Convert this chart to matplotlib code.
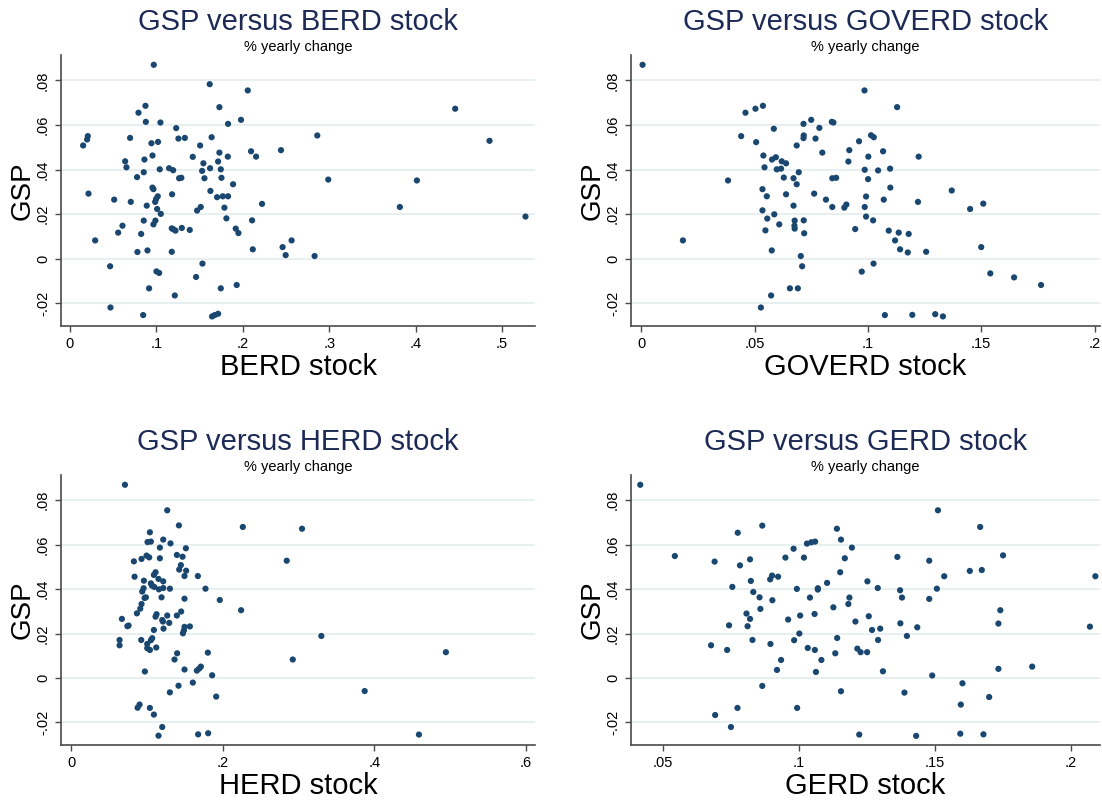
import matplotlib
matplotlib.use("Agg")
import matplotlib.pyplot as plt

plt.rcParams['font.family'] = ['Liberation Sans', 'DejaVu Sans']

# --- BERD stock vs GSP (% yearly change) ---
berd_x = [0.0971, 0.1618, 0.2058, 0.173, 0.0875, 0.0794, 0.0879, 0.1048, 0.123, 0.183,
          0.198, 0.0208, 0.020, 0.0154, 0.0697, 0.0944, 0.102, 0.1256, 0.133, 0.164,
          0.1507, 0.2096, 0.2154, 0.173, 0.1827, 0.1422, 0.0956, 0.064, 0.0655, 0.0863,
          0.1545, 0.1148, 0.1195, 0.104, 0.0855, 0.153, 0.1622, 0.1715, 0.1746, 0.0778,
          0.1264, 0.129, 0.1557, 0.1754, 0.1888, 0.0956, 0.0967, 0.0216, 0.1626, 0.1017,
          0.0998, 0.1183, 0.1703, 0.1769, 0.183, 0.0513, 0.0705, 0.0987, 0.089, 0.101,
          0.1052, 0.1788, 0.1472, 0.1514, 0.2223, 0.1811, 0.2108, 0.099, 0.0855, 0.0967,
          0.0609, 0.0559, 0.0825, 0.1179, 0.1198, 0.1222, 0.1295, 0.1387, 0.1919, 0.195,
          0.0293, 0.2116, 0.0782, 0.0898, 0.1179, 0.0466, 0.1534, 0.1002, 0.1033, 0.146,
          0.0917, 0.1746, 0.193, 0.1214, 0.047, 0.0848, 0.1645, 0.1676, 0.1715,
          0.2442, 0.2862, 0.2989, 0.4457, 0.4854, 0.4014, 0.3817, 0.527, 0.2565, 0.2461,
          0.2496, 0.2831]
berd_gsp = [0.0870, 0.0783, 0.0755, 0.068, 0.0686, 0.0655, 0.0614, 0.0611, 0.0586, 0.0605,
            0.0623, 0.0550, 0.0535, 0.0508, 0.0542, 0.0518, 0.0524, 0.0539, 0.0542, 0.0545,
            0.0508, 0.0482, 0.0458, 0.0476, 0.0458, 0.0457, 0.0463, 0.0437, 0.0410, 0.0445,
            0.0428, 0.0406, 0.0397, 0.0401, 0.0388, 0.0394, 0.0406, 0.0436, 0.0401, 0.0366,
            0.0361, 0.0363, 0.0361, 0.0363, 0.0334, 0.0319, 0.0312, 0.0292, 0.0304, 0.0280,
            0.0268, 0.0289, 0.0276, 0.0280, 0.0280, 0.0265, 0.0255, 0.0255, 0.0238, 0.0223,
            0.0201, 0.0229, 0.0216, 0.0232, 0.0246, 0.0181, 0.0172, 0.0171, 0.0171, 0.0154,
            0.0148, 0.0117, 0.0111, 0.0136, 0.0132, 0.0126, 0.0138, 0.0129, 0.0135, 0.0115,
            0.0082, 0.0042, 0.0030, 0.0037, 0.0031, -0.0034, -0.0022, -0.0057, -0.0064, -0.0082,
            -0.0133, -0.0133, -0.0118, -0.0165, -0.0219, -0.0253, -0.0259, -0.0253, -0.0247,
            0.0487, 0.0553, 0.0355, 0.0673, 0.0529, 0.0351, 0.0232, 0.0189, 0.0082, 0.0052,
            0.0016, 0.0012]

# --- GOVERD stock vs GSP ---
goverd_x = [0.0006, 0.0184, 0.0383, 0.0441, 0.046, 0.0504, 0.0537, 0.0507, 0.0585, 0.0539,
            0.0544, 0.0577, 0.0594, 0.062, 0.0639, 0.0598, 0.0617, 0.0629, 0.0672, 0.0695,
            0.0686, 0.0535, 0.0554, 0.0639, 0.0535, 0.0587, 0.0556, 0.0672, 0.0677, 0.0717,
            0.0676, 0.0677, 0.0719, 0.0548, 0.0609, 0.0576, 0.0704, 0.071, 0.0656, 0.0691,
            0.0573, 0.0528, 0.0686, 0.0716, 0.0717, 0.0716, 0.0750, 0.0786, 0.0769, 0.0799,
            0.0841, 0.0848, 0.0843, 0.086, 0.0763, 0.0815, 0.0843, 0.0896, 0.0905, 0.0918,
            0.0914,
            0.0985, 0.1129, 0.1014, 0.1026, 0.0961, 0.1067, 0.1002, 0.1224, 0.0986, 0.1045,
            0.1098, 0.1001, 0.1099, 0.137, 0.0992, 0.107, 0.1221, 0.1509, 0.1451, 0.0986,
            0.0992, 0.1023, 0.0944, 0.1092, 0.1136, 0.118, 0.112, 0.1142, 0.1176, 0.1257,
            0.15, 0.1025, 0.0973, 0.154, 0.1645, 0.1764, 0.1075, 0.1196, 0.1297, 0.1331]
goverd_gsp = [0.0870, 0.0082, 0.0351, 0.0550, 0.0655, 0.0673, 0.0686, 0.0523, 0.0583, 0.0463,
              0.0410, 0.0445, 0.0455, 0.0437, 0.0428, 0.0401, 0.0404, 0.0364, 0.0361, 0.0388,
              0.0334, 0.0312, 0.0280, 0.0289, 0.0217, 0.0199, 0.0180, 0.0238, 0.0171, 0.0172,
              0.0148, 0.0135, 0.0114, 0.0127, 0.0154, 0.0037, 0.0012, -0.0034, -0.0133, -0.0133,
              -0.0165, -0.0219, 0.0508, 0.0541, 0.0553, 0.0605, 0.0623, 0.0587, 0.0539, 0.0476,
              0.0614, 0.0611, 0.0361, 0.0363, 0.0292, 0.0265, 0.0232, 0.0229, 0.0243, 0.0487,
              0.0436,
              0.0755, 0.0680, 0.0554, 0.0545, 0.0527, 0.0482, 0.0458, 0.0458, 0.0399, 0.0396,
              0.0404, 0.0357, 0.0319, 0.0306, 0.0279, 0.0265, 0.0255, 0.0247, 0.0223, 0.0232,
              0.0189, 0.0172, 0.0133, 0.0126, 0.0117, 0.0111, 0.0082, 0.0042, 0.0028, 0.0031,
              0.0052, -0.0022, -0.0058, -0.0066, -0.0084, -0.0118, -0.0253, -0.0252, -0.0249, -0.0259]

# --- HERD stock vs GSP ---
herd_x = [0.0708, 0.1266, 0.142, 0.2264, 0.1037, 0.1006, 0.105, 0.1213, 0.1309, 0.1169,
          0.1512, 0.0826, 0.0927, 0.0993, 0.1028, 0.1169, 0.1393, 0.1468, 0.1446, 0.1424,
          0.1516, 0.1494, 0.167, 0.0835, 0.1112, 0.109, 0.0958, 0.1151, 0.1213, 0.105,
          0.1064, 0.1094, 0.1156, 0.1213, 0.1301, 0.0954, 0.0936, 0.0984, 0.0967, 0.1191,
          0.1494, 0.1771, 0.196, 0.0927, 0.091, 0.0866, 0.145, 0.1125, 0.1112, 0.1266,
          0.1393, 0.12, 0.1209, 0.1292, 0.2241, 0.0668, 0.0756, 0.0740, 0.109, 0.1217,
          0.1494, 0.1486, 0.1565, 0.1473, 0.0637, 0.0637, 0.0923, 0.1068, 0.105, 0.1002,
          0.1002, 0.1037, 0.1121, 0.1397, 0.1802, 0.1362, 0.0971, 0.1494, 0.1657, 0.1687,
          0.171, 0.1859, 0.1604, 0.1415, 0.1301, 0.1912, 0.0875, 0.0901, 0.1037, 0.109,
          0.12, 0.1151, 0.1674, 0.1806,
          0.3045, 0.2843, 0.33, 0.2923, 0.4944, 0.3872, 0.4588]
herd_gsp = [0.0870, 0.0755, 0.0687, 0.0680, 0.0656, 0.0612, 0.0614, 0.0623, 0.0606, 0.0587,
            0.0584, 0.0525, 0.0536, 0.0551, 0.0543, 0.0539, 0.0554, 0.0546, 0.0508, 0.0488,
            0.0483, 0.0459, 0.0459, 0.0456, 0.0476, 0.0464, 0.0438, 0.0446, 0.0435, 0.0426,
            0.0416, 0.0410, 0.0399, 0.0405, 0.0402, 0.0404, 0.0389, 0.0363, 0.0360, 0.0363,
            0.0357, 0.0402, 0.0351, 0.0333, 0.0312, 0.0291, 0.0299, 0.0287, 0.0276, 0.0281,
            0.0281, 0.0261, 0.0254, 0.0248, 0.0305, 0.0266, 0.0236, 0.0233, 0.0216, 0.0222,
            0.0230, 0.0214, 0.0232, 0.0201, 0.0171, 0.0147, 0.0171, 0.0179, 0.0170, 0.0153,
            0.0134, 0.0126, 0.0137, 0.0111, 0.0114, 0.0083, 0.0029, 0.0038, 0.0033, 0.0042,
            0.0051, 0.0012, -0.0021, -0.0035, -0.0065, -0.0084, -0.0134, -0.0120, -0.0135, -0.0165,
            -0.0221, -0.0260, -0.0254, -0.0249,
            0.0672, 0.0528, 0.0189, 0.0083, 0.0116, -0.0059, -0.0255]

# --- GERD stock vs GSP ---
gerd_x = [0.0418, 0.0545, 0.0691, 0.0776, 0.0866, 0.0784, 0.0821, 0.0756, 0.0824, 0.0833,
          0.0856, 0.0895, 0.0902, 0.0924, 0.0903, 0.0859, 0.0808, 0.0821, 0.0812, 0.0744,
          0.0678, 0.0737, 0.083, 0.0896, 0.0935, 0.092, 0.0961, 0.0951, 0.0981, 0.0993,
          0.0983, 0.1002, 0.1005, 0.1019, 0.103, 0.1046, 0.106, 0.1041, 0.1058, 0.107,
          0.107, 0.1104, 0.1033, 0.1059, 0.1063, 0.1083, 0.114, 0.1155, 0.1152, 0.1127,
          0.1141, 0.1134, 0.1155, 0.1169, 0.1186, 0.1182, 0.0866, 0.0775, 0.0994, 0.0693,
          0.0751,
          0.1195, 0.1252, 0.129, 0.1208, 0.1257, 0.1269, 0.1299, 0.1291, 0.1215, 0.1227,
          0.1251, 0.1309, 0.1388, 0.1362, 0.1372, 0.1379, 0.1373, 0.1397, 0.1435, 0.1479,
          0.1479, 0.1507, 0.1511, 0.1534, 0.149, 0.1628, 0.1672, 0.1666, 0.175, 0.174,
          0.1733, 0.1733, 0.1857, 0.1601, 0.1699, 0.1595, 0.1222, 0.1431, 0.1593, 0.1678,
          0.2089, 0.2069]
gerd_gsp = [0.0870, 0.0549, 0.0524, 0.0654, 0.0686, 0.0507, 0.0534, 0.0410, 0.0437, 0.0387,
            0.0363, 0.0444, 0.0461, 0.0456, 0.0350, 0.0311, 0.0290, 0.0266, 0.0233, 0.0237,
            0.0147, 0.0126, 0.0171, 0.0153, 0.0081, 0.0036, 0.0263, 0.0542, 0.0582, 0.0401,
            0.0170, 0.0200, 0.0281, 0.0542, 0.0605, 0.0611, 0.0614, 0.0362, 0.0288, 0.0404,
            0.0398, 0.0428, 0.0135, 0.0126, 0.0027, 0.0081, 0.0672, 0.0623, 0.0476, 0.0318,
            0.0180, 0.0111, -0.0060, 0.0539, 0.0362, 0.0333, -0.0036, -0.0135, -0.0135, -0.0167,
            -0.0221,
            0.0587, 0.0435, 0.0405, 0.0254, 0.0278, 0.0216, 0.0222, 0.0171, 0.0132, 0.0116,
            0.0116, 0.0030, -0.0066, 0.0545, 0.0395, 0.0362, 0.0246, 0.0189, 0.0228, 0.0528,
            0.0356, 0.0402, 0.0755, 0.0458, 0.0011, 0.0482, 0.0486, 0.0680, 0.0552, 0.0305,
            0.0245, 0.0041, 0.0051, -0.0024, -0.0086, -0.0120, -0.0255, -0.0261, -0.0251, -0.0254,
            0.0458, 0.0231]

y_ticks = [-0.02, 0, 0.02, 0.04, 0.06, 0.08]
y_labels = ['-.02', '0', '.02', '.04', '.06', '.08']

panels = [
    dict(x=berd_x, y=berd_gsp, name='BERD', pos=(61, 55, 535, 326),
         xlim=(-0.0102, 0.538), xticks=[0, 0.1, 0.2, 0.3, 0.4, 0.5],
         xlabels=['0', '.1', '.2', '.3', '.4', '.5']),
    dict(x=goverd_x, y=goverd_gsp, name='GOVERD', pos=(631, 55, 1100, 326),
         xlim=(-0.0045, 0.2024), xticks=[0, 0.05, 0.1, 0.15, 0.2],
         xlabels=['0', '.05', '.1', '.15', '.2']),
    dict(x=herd_x, y=herd_gsp, name='HERD', pos=(61, 475, 535, 745),
         xlim=(-0.0136, 0.612), xticks=[0, 0.2, 0.4, 0.6],
         xlabels=['0', '.2', '.4', '.6']),
    dict(x=gerd_x, y=gerd_gsp, name='GERD', pos=(631, 475, 1100, 745),
         xlim=(0.0384, 0.2106), xticks=[0.05, 0.1, 0.15, 0.2],
         xlabels=['.05', '.1', '.15', '.2']),
]

W, H = 1102, 800
fig = plt.figure(figsize=(W / 100, H / 100), dpi=100)
fig.patch.set_facecolor('white')

navy = '#1a476f'
title_col = '#1c2a55'
axis_col = '#4a4a4a'
grid_col = '#e6eef0'

for p in panels:
    l, t, r, b = p['pos']
    ax = fig.add_axes([l / W, 1 - b / H, (r - l) / W, (b - t) / H])
    ax.scatter(p['x'], p['y'], s=20, color=navy, edgecolors='none', zorder=3)
    ax.set_xlim(*p['xlim'])
    ax.set_ylim(-0.0302, 0.0914)
    ax.set_xticks(p['xticks'])
    ax.set_xticklabels(p['xlabels'])
    ax.set_yticks(y_ticks)
    ax.set_yticklabels(y_labels, rotation=90, va='center')
    ax.grid(axis='y', color=grid_col, lw=1.3, zorder=0)
    ax.set_axisbelow(True)
    for s in ('top', 'right'):
        ax.spines[s].set_visible(False)
    for s in ('left', 'bottom'):
        ax.spines[s].set_color(axis_col)
        ax.spines[s].set_linewidth(1.2)
    ax.tick_params(direction='out', length=4, width=1, color=axis_col,
                   labelsize=10.5, labelcolor='black', pad=4)

    # titles, subtitles and axis titles sit outside the axes
    cx = (l + r) / 2 / W
    fig.text(cx, 1 - (t - 33) / H, f'GSP versus {p["name"]} stock', ha='center',
             va='center', fontsize=21, color=title_col)
    fig.text(cx, 1 - (t - 8) / H, '% yearly change', ha='center', va='center',
             fontsize=10.5, color='black')
    fig.text(cx, 1 - (b + 41) / H, f'{p["name"]} stock', ha='center', va='center',
             fontsize=21, color='black')
    fig.text((l - 38) / W, 1 - (t + b) / 2 / H, 'GSP', ha='center', va='center',
             rotation=90, fontsize=20, color='black')

fig.savefig('out.png', dpi=100, facecolor='white')
